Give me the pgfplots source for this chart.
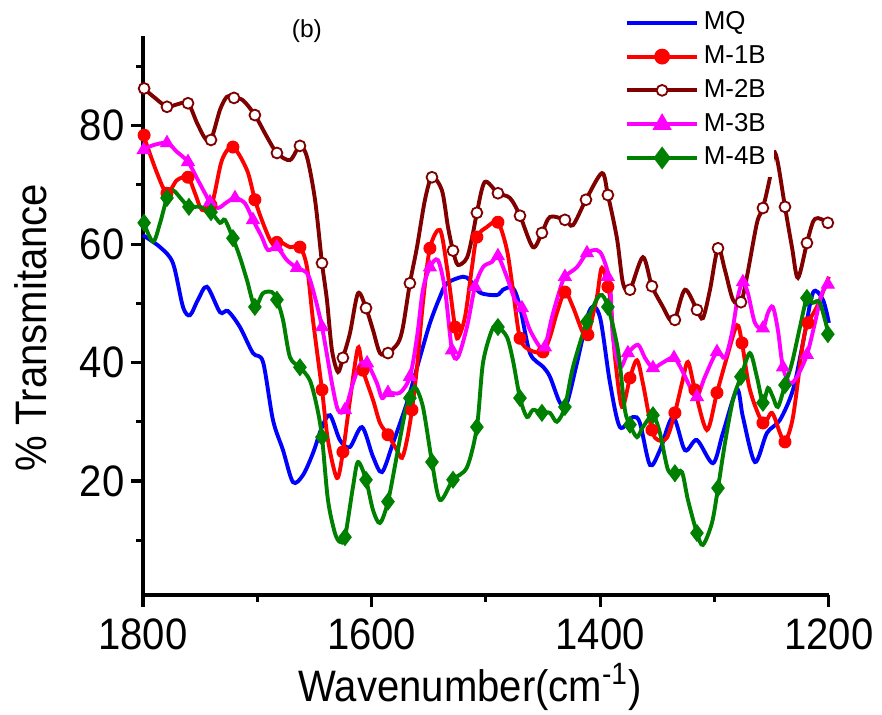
\documentclass[border=0pt]{standalone}
\usepackage{fontspec}
\setmainfont{Liberation Sans}
\newfontfamily\axisfont[FakeStretch=0.91]{Liberation Sans}
\usepackage{pgfplots}
\pgfplotsset{compat=1.18}
\definecolor{mqblue}{RGB}{0,0,255}
\definecolor{m1red}{RGB}{255,0,0}
\definecolor{m2maroon}{RGB}{128,0,0}
\definecolor{m3mag}{RGB}{255,0,255}
\definecolor{m4green}{RGB}{0,128,0}

\begin{document}
\begin{tikzpicture}
\begin{axis}[
  name=ax,
  scale only axis,
  width=264.8pt, height=215.8pt,
  x dir=reverse,
  xmin=1200, xmax=1800, ymin=0.74, ymax=95.16,
  axis x line=bottom, axis y line=left,
  axis line style={-, line width=1.2pt},
  xtick={1200,1400,1600,1800},
  ytick={20,40,60,80},
  minor xtick={1300,1500,1700},
  minor ytick={10,30,50,70,90},
  tick align=outside,
  major tick length=4.6pt, minor tick length=2.7pt,
  every tick/.style={line width=1.2pt, black},
  /pgf/number format/assume math mode=true,
  /pgf/number format/1000 sep={},
  tick label style={font=\axisfont\fontsize{17}{20}\selectfont},
  yticklabel style={xshift=1pt},
  xticklabel style={yshift=-1pt},
  xlabel={Wavenumber(cm\textsuperscript{-1})},
  ylabel={\% Transmitance},
  every axis x label/.style={at={(axis description cs:0.477,-0.19)}, anchor=base, font=\axisfont\fontsize{17}{20}\selectfont},
  every axis y label/.style={at={(axis description cs:-0.163,0.478)}, rotate=90, anchor=center, font=\axisfont\fontsize{17}{20}\selectfont},
  legend style={at={(axis description cs:0.699,1.058)}, anchor=north west, draw=none, fill=white,
    font=\fontsize{10}{12}\selectfont, inner sep=1pt, row sep=0.6pt},
  legend cell align=left,
  legend image code/.code={\draw[mark repeat=2,mark phase=2,#1] plot coordinates {(0cm,0cm) (0.47cm,0cm) (0.94cm,0cm)};},
  clip=false,
]
% MQ
\addplot[mqblue, line width=1.5pt, smooth, forget plot] coordinates {
(1800,61.5)(1785.1,59.5)(1773.8,56.8)(1765.0,49.4)(1758.9,48.0)(1751.9,50.6)(1744.0,52.8)(1732.6,48.5)(1725.7,48.7)(1715.2,46.0)(1703.8,41.6)(1695.0,40.1)(1686.3,30.3)(1677.5,25.2)(1668.8,19.8)(1660.0,21.0)(1651.3,24.7)(1643.4,29.1)(1636.4,31.1)(1627.7,26.9)(1619.1,25.7)(1608.4,29.1)(1598.8,24.1)(1590.9,21.5)(1581.3,26.4)(1569.1,33.2)(1557.7,40.9)(1548.9,46.7)(1540.2,51.1)(1534.1,53.4)(1520.1,54.5)(1514.0,53.9)(1505.2,51.8)(1490.4,51.4)(1485.1,52.3)(1476.4,52.6)(1470.2,49.4)(1461.5,41.6)(1450.1,39.3)(1444.0,37.6)(1435.2,33.2)(1429.1,33.2)(1420.4,39.9)(1409.0,48.9)(1400.3,47.7)(1391.5,36.6)(1382.8,29.1)(1371.4,30.8)(1365.3,29.8)(1356.5,22.7)(1347.8,25.2)(1336.4,30.8)(1325.9,25.2)(1315.4,26.9)(1301.4,23.0)(1292.7,28.1)(1280.4,35.4)(1275.2,30.8)(1264.7,23.2)(1254.2,28.1)(1242.8,30.3)(1231.4,35.4)(1222.7,43.3)(1213.9,51.8)(1205.2,50.6)(1200,46.7)
};
% M-1B
\addplot[m1red, line width=1.5pt, smooth, forget plot] coordinates {
(1800,78.6)(1787.7,72.0)(1779.0,68.6)(1770.3,70.8)(1760.6,71.3)(1754.5,68.6)(1748.4,65.8)(1739.6,66.9)(1730.9,74.2)(1721.3,76.4)(1709.0,72.5)(1702.1,67.5)(1695.1,63.6)(1687.2,60.2)(1680.2,60.4)(1671.5,59.5)(1662.7,59.5)(1656.5,56.1)(1651.3,47.2)(1643.4,35.4)(1638.2,26.9)(1630.3,20.5)(1625.1,24.9)(1618.9,33.7)(1611.9,42.5)(1607.6,38.7)(1598.8,33.7)(1592.7,29.8)(1585.7,27.8)(1577.8,25.2)(1573.4,23.9)(1569.1,26.9)(1564.7,32.0)(1560.3,39.2)(1555.1,50.1)(1549.0,59.3)(1540.2,62.4)(1534.1,56.1)(1527.1,46.0)(1524.5,44.1)(1518.3,47.7)(1512.2,56.1)(1507.9,61.2)(1499.1,62.9)(1489.5,63.7)(1481.6,59.0)(1476.4,52.3)(1470.2,44.1)(1461.5,42.1)(1450.1,41.8)(1444.0,44.3)(1437.9,48.4)(1430.9,51.9)(1423.9,49.4)(1415.1,45.0)(1410.8,44.7)(1402.9,51.1)(1398.5,56.0)(1391.5,51.1)(1387.1,40.9)(1381.0,32.5)(1374.0,37.4)(1367.9,40.4)(1362.7,36.5)(1354.8,28.6)(1349.5,26.9)(1341.7,27.3)(1334.7,31.5)(1328.5,36.5)(1323.3,40.1)(1317.2,35.4)(1306.7,28.6)(1297.9,34.9)(1289.2,40.9)(1280.4,46.3)(1276.0,43.3)(1269.1,35.4)(1257.7,29.8)(1249.8,31.5)(1242.8,28.1)(1238.4,26.6)(1231.4,30.8)(1222.7,43.3)(1218.3,46.7)(1210.5,49.4)(1200,54.5)
};
\addplot[only marks, mark=*, mark size=2.3pt, m1red, forget plot] coordinates {
(1799,78.4)(1779.0,68.6)(1760.6,71.3)(1740.5,66.6)(1721.3,76.4)(1702.1,67.5)(1682.9,60.3)(1662.7,59.5)(1643.4,35.4)(1625.1,24.9)(1607.6,38.7)(1585.7,27.8)(1564.7,32.0)(1549.0,59.3)(1527.1,46.0)(1507.9,61.2)(1489.5,63.7)(1470.2,44.1)(1450.1,41.8)(1430.9,51.9)(1410.8,44.7)(1393.3,52.8)(1374.0,37.4)(1354.8,28.6)(1334.7,31.5)(1317.2,35.4)(1297.9,34.9)(1276.0,43.3)(1257.7,29.8)(1238.4,26.6)(1218.3,46.7)
};
% M-2B
\addplot[m2maroon, line width=1.5pt, smooth, forget plot] coordinates {
(1800,86.4)(1789.5,84.7)(1779.0,83.2)(1770.3,83.6)(1760.6,83.8)(1752.8,80.5)(1745.8,77.9)(1740.5,77.6)(1732.6,82.7)(1726.5,84.9)(1720.4,84.7)(1712.5,84.3)(1702.1,81.8)(1691.5,78.1)(1682.8,75.4)(1671.4,74.2)(1662.7,76.6)(1656.5,74.7)(1649.5,67.5)(1643.4,56.8)(1639.1,50.6)(1634.7,42.1)(1629.4,38.4)(1625.1,40.8)(1618.9,45.0)(1611.9,51.7)(1604.9,49.2)(1598.8,45.5)(1592.7,41.6)(1585.7,41.6)(1576.9,43.3)(1572.6,46.0)(1566.5,53.4)(1560.3,59.5)(1553.3,67.5)(1547.2,71.3)(1538.5,69.1)(1533.2,62.9)(1528.8,58.9)(1524.5,56.5)(1516.6,57.7)(1511.3,61.9)(1507.9,65.3)(1501.0,70.5)(1489.5,68.6)(1479.0,67.8)(1470.2,64.8)(1458.9,59.5)(1451.0,61.9)(1444.0,64.6)(1430.9,64.1)(1423.9,63.2)(1412.5,67.5)(1398.5,72.0)(1393.3,68.3)(1385.4,61.0)(1380.1,53.4)(1374.0,52.3)(1362.7,57.8)(1354.8,52.9)(1345.2,49.4)(1339.0,47.2)(1334.7,47.2)(1325.9,52.3)(1315.4,48.9)(1310.2,47.5)(1304.0,52.3)(1297.0,59.3)(1290.9,55.6)(1283.9,50.6)(1276.9,50.2)(1271.7,54.5)(1262.9,63.6)(1257.7,66.1)(1251.5,71.3)(1248.1,75.5)(1244.6,73.7)(1238.4,66.3)(1232.3,59.5)(1227.1,54.3)(1219.2,60.2)(1214.0,63.7)(1209.6,64.4)(1200,63.6)
};
\addplot[only marks, mark=*, mark size=2.1pt, mark options={draw=m2maroon, fill=white, line width=0.7pt}, forget plot] coordinates {
(1799,86.3)(1779.0,83.2)(1760.6,83.8)(1740.5,77.6)(1720.4,84.7)(1702.1,81.8)(1682.8,75.4)(1662.7,76.6)(1643.4,56.8)(1625.1,40.8)(1604.9,49.2)(1585.7,41.6)(1566.5,53.4)(1547.2,71.3)(1528.8,58.9)(1507.9,65.3)(1489.5,68.6)(1470.2,64.8)(1451.0,61.9)(1430.9,64.1)(1412.5,67.5)(1393.3,68.3)(1374.0,52.3)(1354.8,52.9)(1334.7,47.2)(1315.4,48.9)(1297.0,59.3)(1276.9,50.2)(1257.7,66.1)(1238.4,66.3)(1219.2,60.2)(1200.9,63.6)
};
% M-3B
\addplot[m3mag, line width=1.5pt, smooth, forget plot] coordinates {
(1800,75.9)(1791.3,76.7)(1779.0,77.1)(1770.3,75.6)(1760.6,73.9)(1751.9,70.8)(1745.8,68.6)(1741.4,67.1)(1734.4,66.1)(1726.5,67.1)(1719.5,67.8)(1710.8,66.9)(1703.8,64.1)(1696.0,61.2)(1690.7,59.0)(1682.9,59.5)(1674.1,57.3)(1665.3,56.0)(1656.5,55.1)(1651.3,52.3)(1643.4,46.0)(1634.7,36.5)(1629.4,32.0)(1623.3,32.0)(1616.3,36.5)(1610.2,39.6)(1604.0,39.9)(1595.3,36.5)(1590.9,34.0)(1585.7,34.9)(1575.2,34.9)(1566.5,37.6)(1560.3,44.3)(1555.1,52.3)(1549.0,56.1)(1542.0,57.3)(1535.8,52.3)(1529.7,42.1)(1524.5,40.9)(1516.6,46.0)(1509.6,52.8)(1502.6,56.1)(1494.7,57.0)(1489.5,58.0)(1481.6,54.4)(1474.6,50.6)(1468.5,49.2)(1461.5,45.5)(1452.7,42.6)(1448.4,42.6)(1442.2,47.7)(1435.3,52.3)(1430.9,54.5)(1420.4,56.1)(1411.6,58.5)(1402.9,59.0)(1397.7,57.8)(1391.5,53.4)(1388.9,44.3)(1382.8,39.2)(1375.8,41.6)(1367.0,43.0)(1360.9,40.8)(1353.9,39.1)(1346.0,39.9)(1335.5,40.8)(1327.7,38.4)(1321.5,35.9)(1315.4,34.2)(1308.4,37.6)(1297.9,41.8)(1290.9,40.8)(1284.8,45.0)(1279.6,51.1)(1275.2,53.6)(1270.8,51.7)(1264.7,46.7)(1257.7,45.8)(1253.3,48.4)(1249.0,49.4)(1244.6,45.5)(1240.2,39.2)(1234.1,36.5)(1227.9,37.6)(1219.2,41.3)(1212.2,46.7)(1206.1,51.7)(1200,53.4)
};
\addplot[only marks, mark=triangle*, mark size=2.8pt, m3mag, forget plot] coordinates {
(1799.5,75.9)(1779.0,77.1)(1760.6,73.9)(1741.4,67.1)(1719.5,67.8)(1703.8,64.1)(1682.9,59.5)(1665.3,56.0)(1643.4,46.0)(1623.3,32.0)(1604.0,39.9)(1585.7,34.9)(1566.5,37.6)(1549.0,56.1)(1529.7,42.1)(1509.6,52.8)(1489.5,58.0)(1468.5,49.2)(1448.4,42.6)(1430.9,54.5)(1411.6,58.5)(1393.5,54.5)(1375.8,41.6)(1353.9,39.1)(1335.5,40.8)(1315.4,34.2)(1297.9,41.8)(1275.2,53.6)(1257.7,45.8)(1240.2,39.2)(1219.2,41.3)(1200.9,53.2)
};
% M-4B
\addplot[m4green, line width=1.5pt, smooth, forget plot] coordinates {
(1800,64.0)(1791.3,60.4)(1785.0,63.6)(1779.0,67.8)(1773.8,69.1)(1765.9,67.5)(1759.8,66.3)(1750.1,66.3)(1740.5,65.4)(1732.6,63.6)(1728.3,64.1)(1721.3,61.0)(1715.2,57.8)(1709.0,53.9)(1702.1,49.4)(1695.1,51.7)(1687.2,51.9)(1682.8,50.6)(1677.5,47.2)(1671.4,40.9)(1662.7,39.2)(1654.0,37.0)(1647.8,32.5)(1643.4,27.4)(1638.2,16.8)(1632.1,11.2)(1627.7,9.7)(1623.3,10.5)(1616.3,19.0)(1611.9,23.2)(1604.9,20.2)(1598.8,15.1)(1592.7,12.9)(1585.7,16.5)(1577.8,24.4)(1570.8,31.5)(1566.5,34.0)(1562.1,35.9)(1555.1,32.5)(1547.2,23.2)(1540.2,16.8)(1528.8,20.2)(1516.6,22.3)(1507.9,29.1)(1502.6,39.9)(1494.7,45.5)(1489.5,46.0)(1481.6,44.3)(1476.4,40.4)(1470.2,34.0)(1464.1,30.8)(1458.9,32.0)(1451.0,31.5)(1444.0,31.5)(1437.9,30.0)(1430.9,32.5)(1423.9,39.2)(1411.6,46.9)(1400.3,51.4)(1393.3,49.4)(1384.5,42.1)(1378.4,32.0)(1374.0,29.5)(1367.9,27.4)(1362.7,29.1)(1353.9,31.1)(1347.8,28.1)(1340.8,21.9)(1334.7,21.3)(1328.5,21.5)(1323.3,16.8)(1315.4,11.2)(1310.2,9.2)(1302.3,12.9)(1297.0,18.8)(1290.9,26.4)(1283.9,33.7)(1276.9,37.6)(1269.1,41.6)(1263.0,37.6)(1257.7,33.2)(1253.3,35.7)(1249.0,34.2)(1244.6,32.5)(1238.4,36.2)(1232.3,39.9)(1225.3,46.0)(1219.2,50.9)(1214.0,50.1)(1207.9,50.1)(1200,44.6)
};
\addplot[only marks, mark=diamond*, mark size=3.2pt, m4green, forget plot] coordinates {
(1799,63.6)(1779.0,67.8)(1759.8,66.3)(1740.5,65.4)(1721.3,61.0)(1702.1,49.4)(1682.8,50.6)(1662.7,39.2)(1643.4,27.4)(1623.3,10.5)(1604.9,20.2)(1585.7,16.5)(1566.5,34.0)(1547.2,23.2)(1528.8,20.2)(1507.9,29.1)(1489.5,46.0)(1470.2,34.0)(1451.0,31.5)(1430.9,32.5)(1411.6,46.9)(1393.3,49.4)(1374.0,29.5)(1353.9,31.1)(1334.7,21.3)(1315.4,11.2)(1297.0,18.8)(1276.9,37.6)(1257.7,33.2)(1238.4,36.2)(1219.2,50.9)(1200.9,44.8)
};
% legend entries
\addlegendimage{mqblue, line width=1.5pt}
\addlegendentry{MQ}
\addlegendimage{m1red, line width=1.5pt, mark=*, mark size=2.3pt}
\addlegendentry{M-1B}
\addlegendimage{m2maroon, line width=1.5pt, mark=*, mark size=2.1pt, mark options={fill=white, line width=0.7pt}}
\addlegendentry{M-2B}
\addlegendimage{m3mag, line width=1.5pt, mark=triangle*, mark size=2.8pt}
\addlegendentry{M-3B}
\addlegendimage{m4green, line width=1.5pt, mark=diamond*, mark size=3.2pt}
\addlegendentry{M-4B}
\node[font=\fontsize{9.5}{11}\selectfont] at (axis description cs:0.239,1.009) {(b)};
\end{axis}
\pgfresetboundingbox
\path ([xshift=-55.2pt,yshift=-46.3pt]ax.south west) rectangle ([xshift=20.5pt,yshift=13.9pt]ax.north east);
\end{tikzpicture}
\end{document}
